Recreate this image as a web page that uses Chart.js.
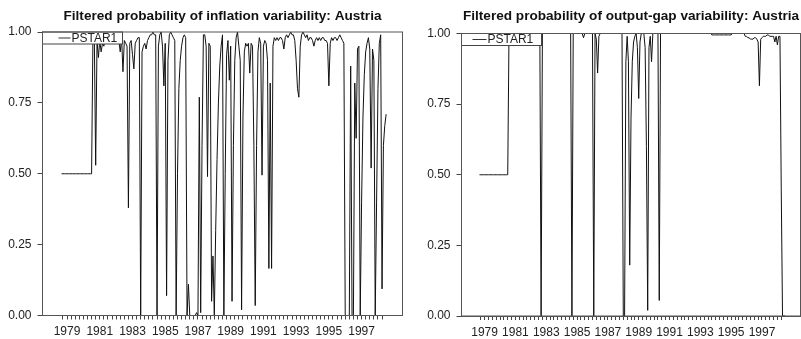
<!DOCTYPE html>
<html>
<head>
<meta charset="utf-8">
<script src="https://cdn.jsdelivr.net/npm/chart.js@4.4.1/dist/chart.umd.min.js"></script>
<style>
  html, body { margin: 0; padding: 0; background: #fff; }
  canvas { position: absolute; top: 0; }
  #left { left: 0; }
  #right { left: 410px; }
</style>
</head>
<body>
<canvas id="left" width="410" height="339"></canvas>
<canvas id="right" width="391" height="339"></canvas>
<script>
// monthly observations, first one is 1978:09
var startYear = 1978, startMonth = 9;
var yearLabels = ['1979', '1981', '1983', '1985', '1987', '1989', '1991', '1993', '1995', '1997'];
var yTicks = [0, 0.25, 0.5, 0.75, 1];

// filtered probability, inflation variability
var inflation = [
  0.50, 0.50, 0.50, 0.50, 0.50, 0.50, 0.50, 0.50, 0.50, 0.50,
  0.50, 0.50, 0.50, 0.50, 0.50, 0.50, 0.50, 0.50, 0.50, 0.50,
  0.50, 0.50, 0.50, 0.99, 0.98, 0.53, 0.97, 0.91, 0.97, 0.93,
  0.96, 0.95, 0.98, 0.99, 0.98, 0.97, 0.99, 0.98, 0.99, 0.98,
  0.97, 0.98, 0.97, 0.93, 0.98, 0.86, 0.97, 0.96, 0.95, 0.38,
  0.96, 0.97, 0.92, 0.87, 0.96, 0.97, 0.98, 0.98, 0.00, 0.93,
  0.95, 0.96, 0.94, 0.97, 0.98, 0.99, 0.99, 1.00, 0.99, 0.99,
  0.00, 0.95, 0.99, 1.00, 0.95, 0.81, 0.96, 0.07, 0.90, 0.99,
  1.00, 0.99, 0.98, 0.97, 0.00, 0.50, 0.80, 0.90, 0.95, 0.98,
  0.99, 0.98, 0.00, 0.11, 0.00, 0.00, 0.00, 0.00, 0.00, 0.01,
  0.00, 0.77, 0.01, 0.60, 0.99, 0.99, 0.95, 0.49, 0.96, 0.95,
  0.05, 0.21, 0.00, 0.30, 0.55, 0.75, 0.88, 0.95, 0.99, 0.00,
  0.50, 0.92, 0.97, 0.83, 0.95, 0.05, 0.60, 0.90, 0.98, 1.00,
  0.95, 0.90, 0.02, 0.70, 0.93, 0.96, 0.95, 0.96, 0.855, 0.96,
  0.95, 0.60, 0.035, 0.60, 0.93, 0.98, 0.96, 0.495, 0.95, 0.97,
  0.96, 0.90, 0.166, 0.82, 0.166, 0.95, 0.98, 0.97, 0.98, 0.97,
  0.98, 0.98, 0.97, 0.94, 0.98, 0.99, 0.98, 0.99, 1.00, 0.99,
  0.99, 0.97, 0.90, 0.80, 0.77, 0.95, 0.99, 1.00, 0.99, 0.98,
  0.99, 0.97, 0.98, 0.98, 0.97, 0.95, 0.97, 0.98, 0.97, 0.98,
  0.97, 0.98, 0.98, 0.97, 0.97, 0.96, 0.81, 0.96, 0.98, 0.97,
  0.98, 0.98, 0.97, 0.98, 0.99, 0.98, 0.97, 0.96, 0.00, 0.00,
  0.00, 0.00, 0.88, 0.00, 0.00, 0.82, 0.625, 0.94, 0.95, 0.00,
  0.40, 0.70, 0.85, 0.93, 0.96, 0.98, 0.94, 0.52, 0.94, 0.90,
  0.00, 0.40, 0.80, 0.96, 0.99, 0.094, 0.60, 0.67, 0.71
];

// filtered probability, output-gap variability
var outputGap = [
  0.50, 0.50, 0.50, 0.50, 0.50, 0.50, 0.50, 0.50, 0.50, 0.50,
  0.50, 0.50, 0.50, 0.50, 0.50, 0.50, 0.50, 0.50, 0.50, 0.50,
  0.50, 0.50, 0.50, 1.00, 1.00, 1.00, 1.00, 1.00, 1.00, 1.00,
  1.00, 1.00, 1.00, 1.00, 1.00, 1.00, 1.00, 1.00, 1.00, 1.00,
  1.00, 1.00, 1.00, 1.00, 1.00, 1.00, 1.00, 1.00, 0.00, 1.00,
  1.00, 1.00, 1.00, 1.00, 1.00, 1.00, 1.00, 1.00, 1.00, 1.00,
  1.00, 1.00, 1.00, 1.00, 1.00, 1.00, 1.00, 1.00, 1.00, 1.00,
  1.00, 1.00, 0.00, 1.00, 1.00, 1.00, 1.00, 1.00, 1.00, 1.00,
  1.00, 0.985, 1.00, 1.00, 1.00, 1.00, 1.00, 1.00, 1.00, 0.00,
  1.00, 0.98, 0.86, 0.99, 1.00, 1.00, 1.00, 1.00, 1.00, 1.00,
  1.00, 1.00, 1.00, 1.00, 1.00, 1.00, 1.00, 1.00, 1.00, 1.00,
  1.00, 1.00, 0.00, 0.00, 0.90, 0.99, 0.90, 0.18, 0.70, 0.90,
  0.97, 0.99, 1.00, 0.95, 0.77, 0.97, 1.00, 1.00, 1.00, 0.95,
  0.60, 0.02, 0.95, 0.99, 0.90, 1.00, 1.00, 1.00, 1.00, 1.00,
  0.055, 1.00, 1.00, 1.00, 1.00, 1.00, 1.00, 1.00, 1.00, 1.00,
  1.00, 1.00, 1.00, 1.00, 1.00, 1.00, 1.00, 1.00, 1.00, 1.00,
  1.00, 1.00, 1.00, 1.00, 1.00, 1.00, 1.00, 1.00, 1.00, 1.00,
  1.00, 1.00, 1.00, 1.00, 1.00, 1.00, 1.00, 1.00, 1.00, 1.00,
  1.00, 0.995, 0.995, 0.995, 0.995, 0.995, 0.995, 0.995, 0.995, 0.995,
  0.995, 0.995, 0.995, 0.995, 0.995, 0.995, 0.995, 1.00, 1.00, 1.00,
  1.00, 1.00, 1.00, 1.00, 1.00, 1.00, 1.00, 0.99, 0.99, 0.985,
  0.985, 0.98, 0.98, 0.98, 0.985, 0.985, 0.98, 0.97, 0.815, 0.98,
  0.985, 0.99, 0.99, 0.99, 0.995, 0.995, 0.99, 0.99, 0.99, 0.99,
  0.97, 0.99, 0.96, 0.99, 0.99, 0.45, 0.00, 0.00, 0.00
];

var months = inflation.map(function(v, i) {
  return startYear + (startMonth - 1) / 12 + i / 12;
});

Chart.defaults.font.family = '"Liberation Sans", Arial, sans-serif';
Chart.defaults.color = '#222';

// box round the plot area
var framePlugin = {
  id: 'frame',
  afterDraw: function(chart) {
    var a = chart.chartArea, ctx = chart.ctx;
    ctx.save();
    ctx.strokeStyle = '#555';
    ctx.lineWidth = 1;
    ctx.strokeRect(a.left, a.top, a.right - a.left, a.bottom - a.top);
    ctx.restore();
  }
};

// EViews style legend sitting in the top left corner, hides the data under it
var legendBox = {
  id: 'legendBox',
  afterDatasetsDraw: function(chart, args, opts) {
    var a = chart.chartArea, ctx = chart.ctx;
    var x = a.left, y = a.top;
    ctx.save();
    ctx.fillStyle = '#fff';
    ctx.fillRect(x, y, opts.width, opts.height);
    ctx.strokeStyle = '#444';
    ctx.lineWidth = 1;
    ctx.strokeRect(x, y, opts.width, opts.height);
    ctx.strokeStyle = '#333';
    ctx.beginPath();
    ctx.moveTo(x + opts.lineFrom, y + opts.height / 2);
    ctx.lineTo(x + opts.lineTo, y + opts.height / 2);
    ctx.stroke();
    ctx.fillStyle = '#222';
    ctx.font = '12px "Liberation Sans", Arial, sans-serif';
    ctx.textBaseline = 'middle';
    ctx.fillText(chart.data.datasets[0].label, x + opts.textAt, y + opts.height / 2 + 0.5);
    ctx.restore();
  }
};

function buildChart(id, title, values, box) {
  var points = values.map(function(v, i) {
    return { x: months[i], y: v };
  });
  return new Chart(document.getElementById(id), {
    type: 'line',
    data: {
      datasets: [{
        label: 'PSTAR1',
        data: points,
        borderColor: '#111',
        borderWidth: 1,
        pointRadius: 0,
        tension: 0,
        fill: false
      }]
    },
    options: {
      responsive: false,
      animation: false,
      layout: { padding: { left: 0, right: box.padRight, top: 0, bottom: 0 } },
      plugins: {
        legend: { display: false },
        tooltip: { enabled: false },
        title: {
          display: true,
          text: title,
          fullSize: false,
          color: '#111',
          font: { size: 13.6, weight: 'bold' },
          padding: { top: 8, bottom: box.titleBottom }
        },
        legendBox: box.legend
      },
      scales: {
        x: {
          type: 'linear',
          min: 1977.5,
          max: 1999.5,
          afterBuildTicks: function(scale) {
            var ticks = [];
            for (var t = 1978.75; t <= 1998.25; t += 0.25) ticks.push({ value: t });
            scale.ticks = ticks;
          },
          afterFit: function(scale) { scale.height = box.xHeight; },
          grid: { drawOnChartArea: false, tickLength: 4, color: '#444' },
          border: { color: '#555' },
          ticks: {
            autoSkip: false,
            maxRotation: 0,
            padding: 5,
            font: { size: 12 },
            callback: function(value) {
              var s = String(value);
              return yearLabels.indexOf(s) >= 0 ? s : '';
            }
          }
        },
        y: {
          min: 0,
          max: 1,
          afterBuildTicks: function(scale) {
            scale.ticks = yTicks.map(function(v) { return { value: v }; });
          },
          afterFit: function(scale) { scale.width = box.yWidth; },
          grid: { drawOnChartArea: false, tickLength: 5, color: '#444' },
          border: { color: '#555' },
          ticks: {
            padding: 6,
            font: { size: 12 },
            callback: function(value) { return value.toFixed(2); }
          }
        }
      }
    },
    plugins: [framePlugin, legendBox]
  });
}

buildChart('left', 'Filtered probability of inflation variability: Austria', inflation, {
  padRight: 7.5, yWidth: 42.5, xHeight: 23.5, titleBottom: 7.68,
  legend: { width: 80, height: 12, lineFrom: 16, lineTo: 28, textAt: 29 }
});

buildChart('right', 'Filtered probability of output-gap variability: Austria', outputGap, {
  padRight: 0.5, yWidth: 51.5, xHeight: 23, titleBottom: 9.18,
  legend: { width: 80, height: 12, lineFrom: 11, lineTo: 25, textAt: 26 }
});
</script>
</body>
</html>
